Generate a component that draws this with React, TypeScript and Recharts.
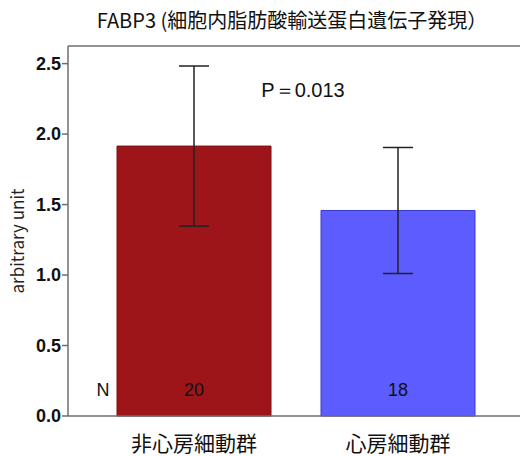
import { BarChart, Bar, XAxis, YAxis, ErrorBar, Cell, LabelList, ReferenceLine } from "recharts";

const groups = ["非心房細動群", "心房細動群"];
const means = [1.915, 1.458];
const errors = [0.568, 0.447];
const counts = [20, 18];
const yTicks = [0, 0.5, 1.0, 1.5, 2.0, 2.5];
const yMax = 2.625;

const fills = ["#9e1519", "#5c5cff"];
const strokes = ["#7a1013", "#3a3ad0"];

const data = groups.map((name, i) => ({
  name,
  value: means[i],
  err: errors[i],
  n: counts[i],
}));

const axisColor = "#6e6e6e";
const numFont = "'Liberation Sans', Arial, sans-serif";
const jpFont = "'Noto Sans CJK JP', 'Noto Sans', sans-serif";

const CountLabel = (props: any) => {
  const { x, y, width, height, value, index } = props;
  const base = y + height - 20;
  return (
    <g>
      {index === 0 && (
        <text x={x - 14} y={base} textAnchor="middle" fontFamily={numFont} fontSize={18} fill="#111">
          N
        </text>
      )}
      <text x={x + width / 2} y={base} textAnchor="middle" fontFamily={numFont} fontSize={18} fill="#111">
        {value}
      </text>
    </g>
  );
};

export default function App() {
  return (
    <div style={{ position: "absolute", left: 0, top: 0, background: "#fff" }}>
      <BarChart
        width={520}
        height={456}
        data={data}
        margin={{ top: 46, right: 0, left: 0, bottom: 0 }}
        barSize={154}
      >
        <text x={292} y={28} textAnchor="middle" fontFamily={jpFont} fontSize={20} fill="#111">
          FABP3 (細胞内脂肪酸輸送蛋白遺伝子発現）
        </text>
        <text
          x={24}
          y={241}
          transform="rotate(-90 24 241)"
          textAnchor="middle"
          fontFamily={jpFont}
          fontSize={17}
          fill="#222"
        >
          arbitrary unit
        </text>
        <text x={303} y={97} textAnchor="middle" fontFamily={numFont} fontSize={20} fill="#111">
          P＝0.013
        </text>
        <XAxis
          dataKey="name"
          padding={{ left: 24, right: 20 }}
          height={40}
          axisLine={{ stroke: axisColor, strokeWidth: 1.5 }}
          tickLine={false}
          tick={{ fontFamily: jpFont, fontSize: 21, fill: "#111" }}
          tickMargin={14}
        />
        <YAxis
          width={68}
          domain={[0, yMax]}
          ticks={yTicks}
          tickFormatter={(v: number) => v.toFixed(1)}
          axisLine={{ stroke: axisColor, strokeWidth: 1.5 }}
          tickLine={{ stroke: axisColor, strokeWidth: 1.5 }}
          tickSize={6}
          tickMargin={1}
          tick={{ fontFamily: numFont, fontSize: 18, fontWeight: "bold", fill: "#111" }}
        />
        <ReferenceLine y={yMax} stroke={axisColor} strokeWidth={1.5} />
        <Bar dataKey="value" isAnimationActive={false}>
          {data.map((_, i) => (
            <Cell key={i} fill={fills[i]} stroke={strokes[i]} strokeWidth={1} />
          ))}
          <ErrorBar dataKey="err" width={15} stroke="#222" strokeWidth={1.5} direction="y" />
          <LabelList dataKey="n" content={CountLabel} />
        </Bar>
      </BarChart>
    </div>
  );
}
